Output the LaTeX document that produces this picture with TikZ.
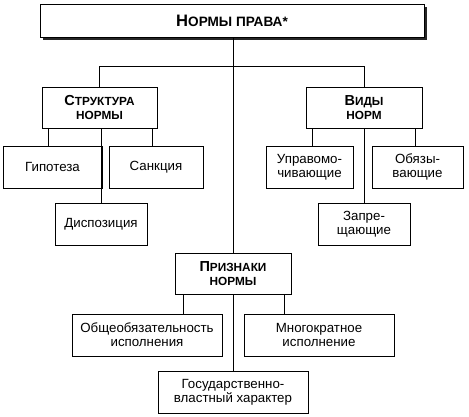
\documentclass[tikz,border=0pt]{standalone}
\usepackage{fontspec}
\setmainfont{Liberation Sans}
\usetikzlibrary{shadows}
\newcommand{\bigsc}[2]{{\fontsize{14.5}{14}\selectfont #1}{\fontsize{11.8}{14}\selectfont #2}}
\tikzset{
  box/.style={draw, line width=1pt, fill=white, inner sep=0pt, outer sep=0pt, align=center,
    minimum height=42pt, font=\fontsize{13.3}{14}\selectfont},
  head/.style={box, minimum height=41pt, font=\bfseries\fontsize{11.8}{14}\selectfont},
  conn/.style={line width=1pt}
}
\begin{document}
\begin{tikzpicture}[x=1pt,y=-1pt]
\useasboundingbox (0,0) rectangle (469,416);
% top
\node[head, minimum width=384pt, minimum height=33pt,
  general shadow={shadow xshift=3pt, shadow yshift=-3pt, fill=black!85}] (top) at (232,20.5)
  {\fontsize{16.6}{14}\selectfont Н\fontsize{13.6}{14}\selectfont ОРМЫ ПРАВА*};
% heads
\node[head, minimum width=115pt] (str) at (99.5,107.5) {\bigsc{С}{ТРУКТУРА}\\\bigsc{}{НОРМЫ}};
\node[head, minimum width=116pt] (vid) at (364,107.5) {\bigsc{В}{ИДЫ}\\\bigsc{}{НОРМ}};
\node[head, minimum width=116pt] (pri) at (233,273.5) {\bigsc{П}{РИЗНАКИ}\\\bigsc{}{НОРМЫ}};
% leaves
\node[box, minimum width=99pt] (gip) at (52.5,167) {Гипотеза};
\node[box, minimum width=94pt] (san) at (156,167) {Санкция};
\node[box, minimum width=92pt] (dis) at (101,224) {Диспозиция};
\node[box, minimum width=87pt] (upr) at (309.5,167) {Управомо-\\чивающие};
\node[box, minimum width=91pt] (obz) at (417.5,167) {Обязы-\\вающие};
\node[box, minimum width=92pt] (zap) at (364,224) {Запре-\\щающие};
\node[box, minimum width=150pt] (obs) at (147,335) {Общеобязательность\\исполнения};
\node[box, minimum width=150pt] (mno) at (319,335) {Многократное\\исполнение};
\node[box, minimum width=150pt] (gos) at (233,392) {Государственно-\\властный характер};
% x positions
\coordinate (x48) at (48,0);
\coordinate (x152) at (152,0);
\coordinate (x101) at (101,0);
\coordinate (x312) at (312,0);
\coordinate (x415) at (415,0);
\coordinate (x363) at (364,0);
\coordinate (x183) at (183,0);
\coordinate (x284) at (284,0);
\coordinate (x233) at (233,0);
% connectors
\draw[conn] (top.south -| x233) -- (pri.north);
\draw[conn] (str.north) -- ++(0,-21) -| (vid.north);
\draw[conn] (str.south -| x48) -- (gip.north -| x48);
\draw[conn] (str.south -| x152) -- (san.north -| x152);
\draw[conn] (str.south -| x101) -- (dis.north -| x101);
\draw[conn] (vid.south -| x312) -- (upr.north -| x312);
\draw[conn] (vid.south -| x415) -- (obz.north -| x415);
\draw[conn] (vid.south -| x363) -- (zap.north -| x363);
\draw[conn] (pri.south -| x183) -- (obs.north -| x183);
\draw[conn] (pri.south -| x284) -- (mno.north -| x284);
\draw[conn] (pri.south -| x233) -- (gos.north -| x233);
\end{tikzpicture}
\end{document}
